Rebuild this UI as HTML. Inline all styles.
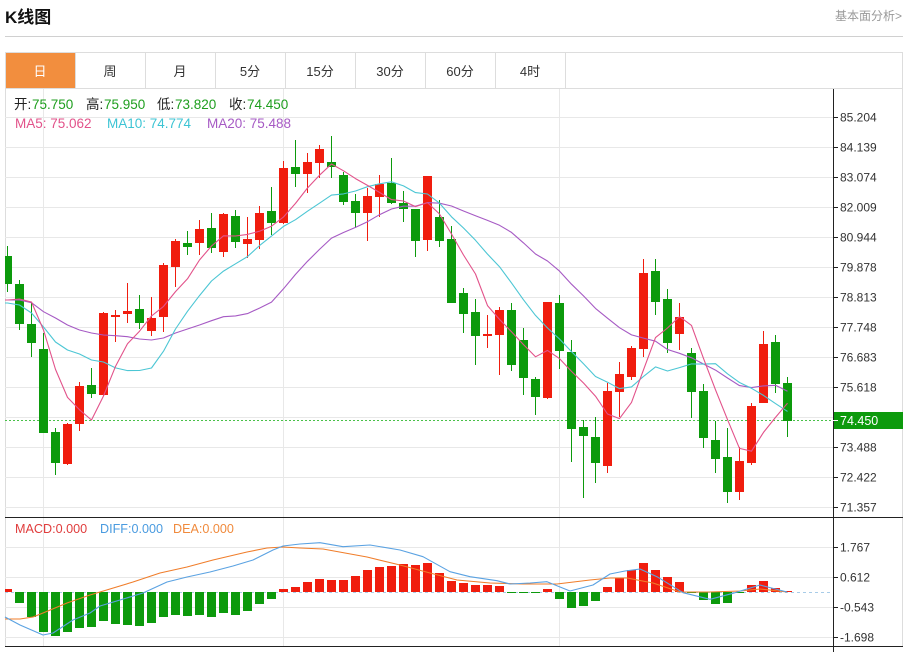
<!DOCTYPE html>
<html><head><meta charset="utf-8"><style>
html,body{margin:0;padding:0;background:#fff;}
svg{display:block;}
text{font-family:"Liberation Sans","Noto Sans CJK SC",sans-serif;}
</style></head><body>
<svg width="913" height="652" viewBox="0 0 913 652" xmlns="http://www.w3.org/2000/svg">
<!-- header -->
<text x="5" y="23" font-size="17" font-weight="bold" fill="#111">K线图</text>
<text x="902" y="20" font-size="12" fill="#999" text-anchor="end">基本面分析&gt;</text>
<line x1="5" y1="36.5" x2="903" y2="36.5" stroke="#d0d0d0"/>
<!-- tabs -->
<rect x="5" y="53" width="70" height="35" fill="#f28e3e"/>
<g stroke="#ddd" fill="none">
<line x1="5" y1="52.5" x2="903" y2="52.5"/>
<line x1="5" y1="88.5" x2="903" y2="88.5"/>
<line x1="75.5" y1="53" x2="75.5" y2="88"/><line x1="145.5" y1="53" x2="145.5" y2="88"/><line x1="215.5" y1="53" x2="215.5" y2="88"/><line x1="285.5" y1="53" x2="285.5" y2="88"/><line x1="355.5" y1="53" x2="355.5" y2="88"/><line x1="425.5" y1="53" x2="425.5" y2="88"/><line x1="495.5" y1="53" x2="495.5" y2="88"/><line x1="565.5" y1="53" x2="565.5" y2="88"/>
<line x1="5.5" y1="53" x2="5.5" y2="647"/>
<line x1="902.5" y1="53" x2="902.5" y2="647"/>
</g>
<g font-size="13" fill="#333" text-anchor="middle">
<text x="40" y="76" fill="#fff">日</text><text x="110" y="76">周</text><text x="180" y="76">月</text><text x="250" y="76">5分</text><text x="320" y="76">15分</text><text x="390" y="76">30分</text><text x="460" y="76">60分</text><text x="530" y="76">4时</text>
</g>
<!-- grid -->
<g stroke="#e8e8e8" fill="none">
<line x1="5" y1="117.5" x2="833" y2="117.5"/><line x1="5" y1="147.5" x2="833" y2="147.5"/><line x1="5" y1="177.5" x2="833" y2="177.5"/><line x1="5" y1="207.5" x2="833" y2="207.5"/><line x1="5" y1="237.5" x2="833" y2="237.5"/><line x1="5" y1="267.5" x2="833" y2="267.5"/><line x1="5" y1="297.5" x2="833" y2="297.5"/><line x1="5" y1="327.5" x2="833" y2="327.5"/><line x1="5" y1="357.5" x2="833" y2="357.5"/><line x1="5" y1="387.5" x2="833" y2="387.5"/><line x1="5" y1="417.5" x2="833" y2="417.5"/><line x1="5" y1="447.5" x2="833" y2="447.5"/><line x1="5" y1="477.5" x2="833" y2="477.5"/><line x1="5" y1="507.5" x2="833" y2="507.5"/>
<line x1="5" y1="547.5" x2="833" y2="547.5"/><line x1="5" y1="577.5" x2="833" y2="577.5"/><line x1="5" y1="607.5" x2="833" y2="607.5"/><line x1="5" y1="637.5" x2="833" y2="637.5"/>
<line x1="43.5" y1="89" x2="43.5" y2="647"/><line x1="283.5" y1="89" x2="283.5" y2="647"/><line x1="559.5" y1="89" x2="559.5" y2="647"/>
</g>
<!-- price dotted line -->
<line x1="5" y1="420.5" x2="833" y2="420.5" stroke="#49c149" stroke-dasharray="2,2"/>
<!-- candles -->
<g fill="#f01d0e">
<path d="M67.5 423V465M79.5 382V431M103.5 312V396M115.5 310V342M127.5 283V323M151.5 297V336M163.5 263V332M175.5 239V287M199.5 220V255M223.5 213V257M247.5 217V258M259.5 206V249M283.5 161V224M307.5 153V193M319.5 145V178M367.5 188V241M379.5 175V217M427.5 176V251M487.5 315V348M499.5 307V375M547.5 302V399M607.5 383V473M619.5 362V417M631.5 346V380M643.5 259V357M679.5 303V350M739.5 447V500M751.5 403V465M763.5 331V403" stroke="#f01d0e" stroke-width="1"/>
<rect x="63" y="424" width="9" height="40"/><rect x="75" y="386" width="9" height="38"/><rect x="99" y="313" width="9" height="82"/><rect x="111" y="315" width="9" height="2"/><rect x="123" y="311" width="9" height="3"/><rect x="147" y="318" width="9" height="13"/><rect x="159" y="265" width="9" height="52"/><rect x="171" y="241" width="9" height="26"/><rect x="195" y="229" width="9" height="14"/><rect x="219" y="214" width="9" height="38"/><rect x="243" y="239" width="9" height="5"/><rect x="255" y="213" width="9" height="27"/><rect x="279" y="168" width="9" height="55"/><rect x="303" y="162" width="9" height="12"/><rect x="315" y="149" width="9" height="14"/><rect x="363" y="196" width="9" height="17"/><rect x="375" y="184" width="9" height="13"/><rect x="423" y="176" width="9" height="64"/><rect x="483" y="334" width="9" height="2"/><rect x="495" y="310" width="9" height="25"/><rect x="543" y="302" width="9" height="96"/><rect x="603" y="391" width="9" height="75"/><rect x="615" y="374" width="9" height="18"/><rect x="627" y="348" width="9" height="29"/><rect x="639" y="273" width="9" height="76"/><rect x="675" y="317" width="9" height="17"/><rect x="735" y="461" width="9" height="31"/><rect x="747" y="406" width="9" height="57"/><rect x="759" y="344" width="9" height="59"/>
</g>
<g fill="#0c9a0c">
<path d="M7.5 246V292M19.5 280V330M31.5 303V357M43.5 333V433M55.5 428V475M91.5 368V398M139.5 295V329M187.5 231V255M211.5 213V253M235.5 210V248M271.5 187V235M295.5 140V187M331.5 136V178M343.5 172V205M355.5 194V228M391.5 158V204M403.5 191V222M415.5 209V257M439.5 200V247M451.5 226V303M463.5 288V333M475.5 299V365M511.5 303V371M523.5 328V395M535.5 377V415M559.5 295V369M571.5 340V462M583.5 420V498M595.5 417V483M655.5 259V315M667.5 289V353M691.5 348V418M703.5 384V448M715.5 421V473M727.5 428V503M775.5 335V393M787.5 377V437" stroke="#0c9a0c" stroke-width="1"/>
<rect x="5" y="256" width="7" height="28"/><rect x="15" y="284" width="9" height="40"/><rect x="27" y="324" width="9" height="19"/><rect x="39" y="349" width="9" height="84"/><rect x="51" y="432" width="9" height="31"/><rect x="87" y="385" width="9" height="9"/><rect x="135" y="309" width="9" height="14"/><rect x="183" y="243" width="9" height="4"/><rect x="207" y="228" width="9" height="20"/><rect x="231" y="216" width="9" height="26"/><rect x="267" y="211" width="9" height="12"/><rect x="291" y="167" width="9" height="7"/><rect x="327" y="162" width="9" height="5"/><rect x="339" y="175" width="9" height="27"/><rect x="351" y="201" width="9" height="12"/><rect x="387" y="183" width="9" height="20"/><rect x="399" y="203" width="9" height="6"/><rect x="411" y="209" width="9" height="32"/><rect x="435" y="217" width="9" height="24"/><rect x="447" y="239" width="9" height="64"/><rect x="459" y="293" width="9" height="21"/><rect x="471" y="312" width="9" height="24"/><rect x="507" y="310" width="9" height="55"/><rect x="519" y="340" width="9" height="38"/><rect x="531" y="379" width="9" height="18"/><rect x="555" y="303" width="9" height="48"/><rect x="567" y="352" width="9" height="77"/><rect x="579" y="427" width="9" height="9"/><rect x="591" y="437" width="9" height="26"/><rect x="651" y="271" width="9" height="31"/><rect x="663" y="299" width="9" height="44"/><rect x="687" y="353" width="9" height="39"/><rect x="699" y="391" width="9" height="47"/><rect x="711" y="440" width="9" height="19"/><rect x="723" y="457" width="9" height="35"/><rect x="771" y="342" width="9" height="42"/><rect x="783" y="383" width="9" height="38"/>
</g>
<!-- MA lines -->
<g fill="none" stroke-width="1.1" stroke-linejoin="round">
<polyline stroke="#a65ac4" points="5,300 7.5,300 19.5,300 31.5,302.7 43.5,311.7 55.5,318 67.5,325 79.5,330 91.5,333 103.5,335 115.5,335.7 127.5,336.7 139.5,339 151.5,340 163.5,338 175.5,333 187.5,329 199.5,325 211.5,320.7 223.5,316.7 235.5,315.9 247.5,313.6 259.5,308.1 271.5,302.1 283.5,288.8 295.5,274.4 307.5,261.3 319.5,249.4 331.5,238.1 343.5,232.5 355.5,227.4 367.5,221.7 379.5,214.7 391.5,209 403.5,206.2 415.5,206.2 427.5,202.6 439.5,203.2 451.5,206 463.5,211 475.5,215.7 487.5,220.4 499.5,225.3 511.5,232.4 523.5,242.9 535.5,254 547.5,261 559.5,271.1 571.5,284.2 583.5,295.9 595.5,308.4 607.5,318.2 619.5,327.7 631.5,334.9 643.5,338.1 655.5,341.2 667.5,349.5 679.5,353.3 691.5,357.8 703.5,364 715.5,370.1 727.5,378 739.5,385.6 751.5,387.6 763.5,385.9 775.5,385.3 787.5,391.2"/>
<polyline stroke="#4cc6d4" points="5,303 7.5,303 19.5,305 31.5,313 43.5,327 55.5,342 67.5,350 79.5,354 91.5,360 103.5,362 115.5,367.9 127.5,370.6 139.5,370.5 151.5,368 163.5,351.2 175.5,329 187.5,311.3 199.5,295.6 211.5,281 223.5,271.1 235.5,263.8 247.5,256.6 259.5,245.6 271.5,236.1 283.5,226.4 295.5,219.7 307.5,211.2 319.5,203.2 331.5,195.1 343.5,193.9 355.5,191 367.5,186.7 379.5,183.8 391.5,181.8 403.5,185.9 415.5,192.6 427.5,194 439.5,203.2 451.5,216.8 463.5,228 475.5,240.3 487.5,254.1 499.5,266.7 511.5,282.9 523.5,299.8 535.5,315.4 547.5,328 559.5,339 571.5,351.6 583.5,363.8 595.5,376.5 607.5,382.2 619.5,388.6 631.5,386.9 643.5,376.4 655.5,366.9 667.5,371 679.5,367.6 691.5,363.9 703.5,364.1 715.5,363.7 727.5,373.8 739.5,382.5 751.5,388.3 763.5,395.4 775.5,403.6 787.5,411.4"/>
<polyline stroke="#e2528a" points="5,300 7.5,300 19.5,299 31.5,302 43.5,330 55.5,369.4 67.5,397.4 79.5,409.8 91.5,420 103.5,396 115.5,366.4 127.5,343.8 139.5,331.2 151.5,316 163.5,306.4 175.5,291.6 187.5,278.8 199.5,260 211.5,246 223.5,235.8 235.5,236 247.5,234.4 259.5,231.2 271.5,226.2 283.5,217 295.5,203.4 307.5,188 319.5,175.2 331.5,164 343.5,170.8 355.5,178.6 367.5,185.4 379.5,192.4 391.5,199.6 403.5,201 415.5,206.6 427.5,202.6 439.5,214 451.5,234 463.5,255 475.5,274 487.5,305.6 499.5,319.4 511.5,331.8 523.5,344.6 535.5,356.8 547.5,350.4 559.5,358.6 571.5,371.4 583.5,383 595.5,396.2 607.5,414 619.5,418.6 631.5,402.4 643.5,369.8 655.5,337.6 667.5,328 679.5,316.6 691.5,325.4 703.5,358.4 715.5,389.8 727.5,419.6 739.5,448.4 751.5,451.2 763.5,432.4 775.5,417.4 787.5,403.2"/>
</g>
<!-- legend -->
<g font-size="13.5">
<text x="14" y="109" fill="#222">开:</text><text x="32" y="109" fill="#1e9e1e">75.750</text>
<text x="86" y="109" fill="#222">高:</text><text x="104" y="109" fill="#1e9e1e">75.950</text>
<text x="157" y="109" fill="#222">低:</text><text x="175" y="109" fill="#1e9e1e">73.820</text>
<text x="229" y="109" fill="#222">收:</text><text x="247" y="109" fill="#1e9e1e">74.450</text>
<text x="15" y="128" fill="#e2528a">MA5: 75.062</text>
<text x="107" y="128" fill="#3cc4d4">MA10: 74.774</text>
<text x="207" y="128" fill="#a65ac4">MA20: 75.488</text>
</g>
<!-- MACD -->
<line x1="5" y1="592.5" x2="833" y2="592.5" stroke="#a8cce8" stroke-dasharray="3,3"/>
<g fill="#f01d0e">
<rect x="5" y="589" width="7" height="3"/><rect x="279" y="589" width="9" height="3"/><rect x="291" y="587" width="9" height="5"/><rect x="303" y="582" width="9" height="10"/><rect x="315" y="579" width="9" height="13"/><rect x="327" y="580" width="9" height="12"/><rect x="339" y="580" width="9" height="12"/><rect x="351" y="576" width="9" height="16"/><rect x="363" y="570" width="9" height="22"/><rect x="375" y="567" width="9" height="25"/><rect x="387" y="566" width="9" height="26"/><rect x="399" y="564" width="9" height="28"/><rect x="411" y="565" width="9" height="27"/><rect x="423" y="563" width="9" height="29"/><rect x="435" y="573" width="9" height="19"/><rect x="447" y="581" width="9" height="11"/><rect x="459" y="583" width="9" height="9"/><rect x="471" y="585" width="9" height="7"/><rect x="483" y="585" width="9" height="7"/><rect x="495" y="586" width="9" height="6"/><rect x="543" y="589" width="9" height="3"/><rect x="603" y="587" width="9" height="5"/><rect x="615" y="578" width="9" height="14"/><rect x="627" y="570" width="9" height="22"/><rect x="639" y="563" width="9" height="29"/><rect x="651" y="570" width="9" height="22"/><rect x="663" y="577" width="9" height="15"/><rect x="675" y="582" width="9" height="10"/><rect x="747" y="585" width="9" height="7"/><rect x="759" y="581" width="9" height="11"/><rect x="771" y="588" width="9" height="4"/><rect x="783" y="591" width="9" height="1"/>
</g>
<g fill="#0c9a0c">
<rect x="15" y="592" width="9" height="11"/><rect x="27" y="592" width="9" height="25"/><rect x="39" y="592" width="9" height="40"/><rect x="51" y="592" width="9" height="44"/><rect x="63" y="592" width="9" height="40"/><rect x="75" y="592" width="9" height="36"/><rect x="87" y="592" width="9" height="35"/><rect x="99" y="592" width="9" height="29"/><rect x="111" y="592" width="9" height="32"/><rect x="123" y="592" width="9" height="33"/><rect x="135" y="592" width="9" height="34"/><rect x="147" y="592" width="9" height="31"/><rect x="159" y="592" width="9" height="25"/><rect x="171" y="592" width="9" height="23"/><rect x="183" y="592" width="9" height="24"/><rect x="195" y="592" width="9" height="23"/><rect x="207" y="592" width="9" height="25"/><rect x="219" y="592" width="9" height="21"/><rect x="231" y="592" width="9" height="23"/><rect x="243" y="592" width="9" height="19"/><rect x="255" y="592" width="9" height="12"/><rect x="267" y="592" width="9" height="7"/><rect x="507" y="592" width="9" height="1"/><rect x="519" y="592" width="9" height="1"/><rect x="531" y="592" width="9" height="1"/><rect x="555" y="592" width="9" height="7"/><rect x="567" y="592" width="9" height="16"/><rect x="579" y="592" width="9" height="14"/><rect x="591" y="592" width="9" height="9"/><rect x="687" y="592" width="9" height="1"/><rect x="699" y="592" width="9" height="8"/><rect x="711" y="592" width="9" height="12"/><rect x="723" y="592" width="9" height="11"/><rect x="735" y="592" width="9" height="1"/>
</g>
<g fill="none" stroke-width="1.1" stroke-linejoin="round">
<polyline stroke="#f07d2a" points="5,619 20,619 33,617 43,613 67,603 90,595 100,592 133,582 160,573 187,567 213,560 247,552 267,548 283,547 300,548 323,549 367,557 400,565 430,573 457,580 490,583 523,584 557,584 590,580 610,578 627,578 653,583 680,592 710,592 740,591 760,589 787,592"/>
<polyline stroke="#5aa2e2" points="5,617 20,625 43,635 53,633 73,620 90,613 100,606 120,600 143,593 167,582 187,577 210,572 233,566 253,560 273,550 283,546 300,544 320,542.7 343,546.7 370,545 400,550 423,556.7 450,571.7 470,576.7 497,580.7 510,584 530,583 547,581.7 570,591 593,585 610,574 625,571 640,569 657,576.7 683,592.7 710,599.3 733,593.3 760,585 787,592"/>
</g>
<g font-size="12.6">
<text x="15" y="533" fill="#e03c3c">MACD:0.000</text>
<text x="100" y="533" fill="#4a9be0">DIFF:0.000</text>
<text x="173" y="533" fill="#f08a3c">DEA:0.000</text>
</g>
<!-- frame lines -->
<g stroke="#222" fill="none">
<line x1="5" y1="517.5" x2="903" y2="517.5"/>
<line x1="5" y1="646.5" x2="903" y2="646.5"/>
<line x1="833.5" y1="89" x2="833.5" y2="652"/>
<path d="M833 117.5h5M833 147.5h5M833 177.5h5M833 207.5h5M833 237.5h5M833 267.5h5M833 297.5h5M833 327.5h5M833 357.5h5M833 387.5h5M833 447.5h5M833 477.5h5M833 507.5h5M833 547.5h5M833 577.5h5M833 607.5h5M833 637.5h5"/>
</g>
<!-- axis labels -->
<g font-size="12" fill="#333">
<text x="840" y="121.5">85.204</text><text x="840" y="151.5">84.139</text><text x="840" y="181.5">83.074</text><text x="840" y="211.5">82.009</text><text x="840" y="241.5">80.944</text><text x="840" y="271.5">79.878</text><text x="840" y="301.5">78.813</text><text x="840" y="331.5">77.748</text><text x="840" y="361.5">76.683</text><text x="840" y="391.5">75.618</text><text x="840" y="451.5">73.488</text><text x="840" y="481.5">72.422</text><text x="840" y="511.5">71.357</text>
<text x="840" y="551.5">1.767</text><text x="840" y="581.5">0.612</text><text x="840" y="611.5">-0.543</text><text x="840" y="641.5">-1.698</text>
</g>
<rect x="834" y="412" width="69" height="17" fill="#0c9a0c"/>
<line x1="833" y1="420.5" x2="838" y2="420.5" stroke="#fff"/>
<text x="840" y="425" font-size="12.5" fill="#fff">74.450</text>
</svg>
</body></html>
